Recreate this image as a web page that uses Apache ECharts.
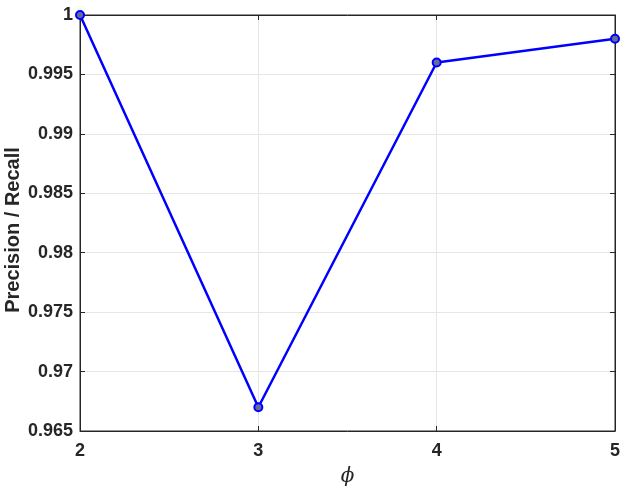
<!DOCTYPE html>
<html>
<head>
<meta charset="utf-8">
<script src="https://cdn.jsdelivr.net/npm/echarts@6/dist/echarts.min.js"></script>
<style>
  html, body { margin: 0; padding: 0; background: #fff; }
</style>
</head>
<body>
<div id="main" style="width: 623px;height:487px;"></div>
<script>
// data
const phi = [2, 3, 4, 5]
const precisionRecall = [1.0, 0.967, 0.996, 0.998]

const xTicks = { min: 2, max: 5, interval: 1 }
const yTicks = { min: 0.965, max: 1, interval: 0.005 }

const labelFont = {
  fontFamily: 'Liberation Sans, Arial, sans-serif',
  fontWeight: 'bold',
  fontSize: 18,
  color: '#262626'
}

const axisLineStyle = { color: '#262626', width: 1 }
const gridLineStyle = { color: '#e6e6e6', width: 1 }

const option = {
  backgroundColor: '#fff',
  animation: false,
  grid: {
    left: 80,
    right: 8,
    top: 15,
    bottom: 56,
    outerBoundsMode: 'none',
    containLabel: false,
    show: true,
    borderColor: '#262626',
    borderWidth: 1
  },
  xAxis: [
    {
      type: 'value',
      min: xTicks.min,
      max: xTicks.max,
      interval: xTicks.interval,
      name: 'ϕ',
      nameLocation: 'middle',
      nameGap: 36,
      nameMoveOverlap: false,
      nameTextStyle: {
        fontFamily: 'DejaVu Serif, Liberation Serif, serif',
        fontStyle: 'italic',
        fontSize: 20,
        color: '#262626'
      },
      axisLine: { show: true, lineStyle: axisLineStyle },
      axisTick: { show: true, inside: true, length: 5, lineStyle: axisLineStyle },
      axisLabel: Object.assign({ margin: 11 }, labelFont),
      splitLine: { show: true, lineStyle: gridLineStyle }
    },
    {
      type: 'value',
      position: 'top',
      min: xTicks.min,
      max: xTicks.max,
      interval: xTicks.interval,
      axisLine: { show: true, lineStyle: axisLineStyle },
      axisTick: { show: true, inside: true, length: 5, lineStyle: axisLineStyle },
      axisLabel: { show: false },
      splitLine: { show: false }
    }
  ],
  yAxis: [
    {
      type: 'value',
      min: yTicks.min,
      max: yTicks.max,
      interval: yTicks.interval,
      name: 'Precision / Recall',
      nameLocation: 'middle',
      nameGap: 57,
      nameMoveOverlap: false,
      nameTextStyle: {
        fontFamily: 'Liberation Sans, Arial, sans-serif',
        fontWeight: 'bold',
        fontSize: 20,
        color: '#262626',
        padding: [0, 14, 0, 0]
      },
      axisLine: { show: true, lineStyle: axisLineStyle },
      axisTick: { show: true, inside: true, length: 5, lineStyle: axisLineStyle },
      axisLabel: Object.assign({
        margin: 7,
        formatter: v => String(+v.toFixed(3))
      }, labelFont),
      splitLine: { show: true, lineStyle: gridLineStyle }
    },
    {
      type: 'value',
      position: 'right',
      min: yTicks.min,
      max: yTicks.max,
      interval: yTicks.interval,
      axisLine: { show: true, lineStyle: axisLineStyle },
      axisTick: { show: true, inside: true, length: 5, lineStyle: axisLineStyle },
      axisLabel: { show: false },
      splitLine: { show: false }
    }
  ],
  series: [
    {
      type: 'line',
      data: phi.map((x, i) => [x, precisionRecall[i]]),
      lineStyle: { color: '#0000ff', width: 2.5 },
      symbol: 'circle',
      symbolSize: 8,
      itemStyle: { color: '#6a6a9a', borderColor: '#0000ff', borderWidth: 2 },
      clip: false
    }
  ]
}

const myChart = echarts.init(document.getElementById('main'))
myChart.setOption(option)
</script>
</body>
</html>
